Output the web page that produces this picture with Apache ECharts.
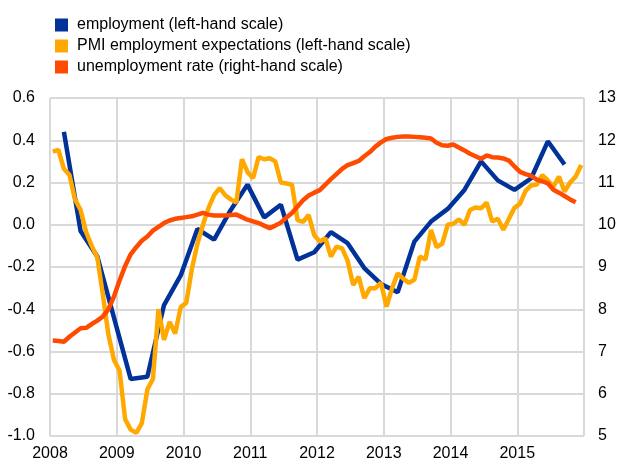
<!DOCTYPE html>
<html>
<head>
<meta charset="utf-8">
<script src="https://cdn.jsdelivr.net/npm/echarts@6/dist/echarts.min.js"></script>
<style>
  html, body { margin: 0; padding: 0; background: #ffffff; }
  #chart { width: 626px; height: 466px; }
</style>
</head>
<body>
<div id="chart"></div>
<script>
// ---- Data ----
// x axis tick labels
const xTickLabels = ['2008', '2009', '2010', '2011', '2012', '2013', '2014', '2015'];
const xStartYear = 2008;
const xEndYear = 2016;

// employment, quarterly, 2008Q1 - 2015Q3 (left-hand scale)
const employment = [
  0.44, -0.03, -0.15, -0.44,
  -0.73, -0.72, -0.38, -0.24,
  -0.02, -0.07, 0.07, 0.19,
  0.035, 0.095, -0.165, -0.13,
  -0.035, -0.087, -0.205, -0.28,
  -0.32, -0.08, 0.015, 0.075,
  0.165, 0.30, 0.21, 0.165,
  0.22, 0.395, 0.285
];

// PMI employment expectations, monthly, Jan 2008 - Dec 2015 (left-hand scale)
const pmiExpectations = [
  0.346, 0.355, 0.265, 0.236, 0.12, 0.07, -0.035, -0.10, -0.155, -0.33, -0.52, -0.64,
  -0.69, -0.92, -0.97, -0.985, -0.94, -0.78, -0.73, -0.40, -0.545, -0.46, -0.515, -0.39,
  -0.37, -0.21, -0.09, 0.0, 0.08, 0.14, 0.173, 0.14, 0.12, 0.105, 0.31, 0.25,
  0.22, 0.32, 0.31, 0.315, 0.30, 0.20, 0.195, 0.19, 0.022, 0.014, 0.046, -0.049,
  -0.08, -0.064, -0.151, -0.104, -0.112, -0.17, -0.285, -0.246, -0.348, -0.30, -0.30, -0.274,
  -0.388, -0.30, -0.23, -0.255, -0.275, -0.26, -0.15, -0.165, -0.025, -0.105, -0.09, 0.0,
  0.005, 0.025, 0.0, 0.07, 0.082, 0.078, 0.105, 0.015, 0.028, -0.024, 0.028, 0.08,
  0.10, 0.16, 0.186, 0.19, 0.235, 0.21, 0.18, 0.228, 0.157, 0.20, 0.228, 0.283
];

// unemployment rate, monthly, Jan 2008 - Nov 2015 (right-hand scale)
const unemploymentRate = [
  7.26, 7.25, 7.23, 7.35, 7.45, 7.55, 7.56, 7.65, 7.73, 7.83, 8.0, 8.3,
  8.68, 9.02, 9.3, 9.47, 9.62, 9.72, 9.86, 9.95, 10.04, 10.10, 10.14, 10.16,
  10.18, 10.20, 10.24, 10.28, 10.24, 10.22, 10.22, 10.22, 10.23, 10.24, 10.18, 10.12,
  10.08, 10.04, 9.98, 9.92, 9.98, 10.05, 10.17, 10.28, 10.43, 10.58, 10.69, 10.76,
  10.82, 10.95, 11.08, 11.20, 11.32, 11.41, 11.46, 11.51, 11.62, 11.72, 11.85, 11.95,
  12.03, 12.06, 12.08, 12.09, 12.09, 12.08, 12.07, 12.06, 12.04, 11.94, 11.88, 11.87,
  11.90, 11.83, 11.76, 11.68, 11.62, 11.56, 11.64, 11.60, 11.59, 11.57, 11.52, 11.38,
  11.25, 11.20, 11.16, 11.07, 11.03, 10.98, 10.83, 10.76, 10.68, 10.60, 10.53
];

const seriesNames = [
  'employment (left-hand scale)',
  'PMI employment expectations (left-hand scale)',
  'unemployment rate (right-hand scale)'
];

// ---- Build time positions (in fractional years) ----
const monthly = (arr) => arr.map((v, i) => [xStartYear + (i + 0.5) / 12, v]);
const quarterly = (arr) => arr.map((v, i) => [xStartYear + (3 * i + 2.5) / 12, v]);

const FONT = 'Liberation Sans, Arial, Helvetica, sans-serif';
const GRID_COLOR = '#d9d9d9';
const BLUE = '#003299';
const YELLOW = '#FFA800';
const RED = '#FF4B00';

const chart = echarts.init(document.getElementById('chart'), null, { renderer: 'canvas' });
chart.setOption({
  animation: false,
  backgroundColor: '#ffffff',
  textStyle: { fontFamily: FONT },
  legend: {
    orient: 'vertical',
    left: 50,
    top: 12,
    icon: 'rect',
    itemWidth: 13,
    itemHeight: 13,
    itemGap: 5,
    selectedMode: false,
    textStyle: { fontFamily: FONT, fontSize: 16, color: '#000', padding: [0, 0, 0, 4] },
    data: seriesNames
  },
  grid: { left: 50, right: 42, top: 98, bottom: 30, containLabel: false },
  xAxis: {
    type: 'value',
    min: xStartYear,
    max: xEndYear,
    interval: 1,
    axisLine: { show: false },
    axisTick: { show: false },
    splitLine: { show: true, lineStyle: { color: GRID_COLOR, width: 2 } },
    axisLabel: {
      fontFamily: FONT, fontSize: 16, color: '#000', margin: 10,
      formatter: (v) => {
        const idx = Math.round(v) - xStartYear;
        return idx >= 0 && idx < xTickLabels.length ? xTickLabels[idx] : '';
      }
    }
  },
  yAxis: [
    {
      type: 'value',
      min: -1.0,
      max: 0.6,
      interval: 0.2,
      position: 'left',
      axisLine: { show: false },
      axisTick: { show: false },
      splitLine: { show: true, lineStyle: { color: GRID_COLOR, width: 2 } },
      axisLabel: {
        fontFamily: FONT, fontSize: 16, color: '#000', margin: 15,
        formatter: (v) => (Math.abs(v) < 1e-9 ? 0 : v).toFixed(1)
      }
    },
    {
      type: 'value',
      min: 5,
      max: 13,
      interval: 1,
      position: 'right',
      axisLine: { show: false },
      axisTick: { show: false },
      splitLine: { show: false },
      axisLabel: { fontFamily: FONT, fontSize: 16, color: '#000', margin: 14 }
    }
  ],
  series: [
    {
      name: seriesNames[0],
      type: 'line',
      yAxisIndex: 0,
      data: quarterly(employment),
      showSymbol: false,
      symbol: 'none',
      itemStyle: { color: BLUE },
      lineStyle: { color: BLUE, width: 4.5 },
      z: 2
    },
    {
      name: seriesNames[1],
      type: 'line',
      yAxisIndex: 0,
      data: monthly(pmiExpectations),
      showSymbol: false,
      symbol: 'none',
      itemStyle: { color: YELLOW },
      lineStyle: { color: YELLOW, width: 4.5 },
      z: 3
    },
    {
      name: seriesNames[2],
      type: 'line',
      yAxisIndex: 1,
      data: monthly(unemploymentRate),
      showSymbol: false,
      symbol: 'none',
      itemStyle: { color: RED },
      lineStyle: { color: RED, width: 4.5 },
      z: 4
    }
  ]
});
</script>
</body>
</html>
